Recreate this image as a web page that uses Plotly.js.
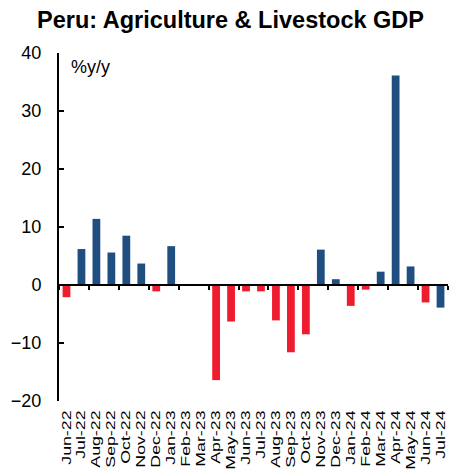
<!DOCTYPE html>
<html><head><meta charset="utf-8">
<script src="https://cdn.plot.ly/plotly-3.0.1.min.js"></script>
<style>html,body{margin:0;padding:0;background:#fff}#c{width:461px;height:473px}</style>
</head><body><div id="c"></div>
<script>
const months = ["Jun-22","Jul-22","Aug-22","Sep-22","Oct-22","Nov-22","Dec-22","Jan-23","Feb-23","Mar-23","Apr-23","May-23","Jun-23","Jul-23","Aug-23","Sep-23","Oct-23","Nov-23","Dec-23","Jan-24","Feb-24","Mar-24","Apr-24","May-24","Jun-24","Jul-24"];
const gdpYoY = [-2.1,6.2,11.4,5.6,8.5,3.7,-1.1,6.7,0.0,0.1,-16.4,-6.3,-1.1,-1.1,-6.1,-11.6,-8.5,6.1,1.0,-3.6,-0.8,2.3,36.1,3.2,-3.0,-3.9];
const barColors = ["#EE1C2E","#1F4E80","#1F4E80","#1F4E80","#1F4E80","#1F4E80","#EE1C2E","#1F4E80","#1F4E80","#1F4E80","#EE1C2E","#EE1C2E","#EE1C2E","#EE1C2E","#EE1C2E","#EE1C2E","#EE1C2E","#1F4E80","#1F4E80","#EE1C2E","#EE1C2E","#1F4E80","#1F4E80","#1F4E80","#EE1C2E","#1F4E80"];
const yTicks = [-20,-10,0,10,20,30,40];
const font = "Liberation Sans, Arial, sans-serif";

const data = [
  {type:"bar", x:months, y:gdpYoY, marker:{color:barColors, line:{width:0}}, width:0.52, hoverinfo:"x+y"},
  {type:"bar", x:months, y:months.map(()=>0), xaxis:"x2", yaxis:"y", hoverinfo:"skip", showlegend:false, marker:{color:"rgba(0,0,0,0)"}}
];
const layout = {
  width:461, height:473,
  margin:{l:59, r:13, t:53, b:72},
  paper_bgcolor:"#fff", plot_bgcolor:"#fff",
  showlegend:false, bargap:0.48,
  title:{text:"<b>Peru: Agriculture & Livestock GDP</b>", font:{family:font, size:23.5, color:"#000"}, x:0.5, xanchor:"center", y:0.958, yanchor:"middle"},
  xaxis:{type:"category", categoryarray:months, tickmode:"array", tickvals:months, ticktext:months,
         showline:false, ticks:"", showgrid:false, zeroline:false, ticklabelstandoff:6,
         tickangle:-90, tickfont:{family:font, size:12.5, color:"#000"}, ticklen:0, automargin:false},
  xaxis2:{type:"category", categoryarray:months, overlaying:"x", anchor:"free", position:1/3, matches:"x",
          showline:true, linecolor:"#000", linewidth:2, ticks:"outside", tickson:"boundaries", ticklen:4, tickwidth:2, tickcolor:"#000",
          showticklabels:false, showgrid:false, zeroline:false},
  yaxis:{range:[-20,40], tickvals:yTicks, ticks:"inside", ticklen:5, tickwidth:1.5, tickcolor:"#000",
         showline:true, linecolor:"#000", linewidth:2, showgrid:false, zeroline:false, ticklabelstandoff:12,
         tickfont:{family:font, size:18, color:"#000"}},
  annotations:[{text:"%y/y", xref:"paper", yref:"paper", x:0.025, y:0.96, xanchor:"left", yanchor:"middle", showarrow:false,
                font:{family:font, size:18, color:"#000"}}]
};
Plotly.newPlot("c", data, layout, {displayModeBar:false, staticPlot:true}).then(function(gd){
  // Stretch the rotated month labels along their length, as in the reference
  gd.querySelectorAll(".xtick text").forEach(function(t){
    const x = parseFloat(t.getAttribute("x")) || 0;
    const y = parseFloat(t.getAttribute("y")) || 0;
    const tr = t.getAttribute("transform") || "";
    t.setAttribute("transform", tr + " translate(" + x + "," + y + ") scale(1.42,1) translate(" + (-x) + "," + (-y) + ")");
  });
});
</script></body></html>
